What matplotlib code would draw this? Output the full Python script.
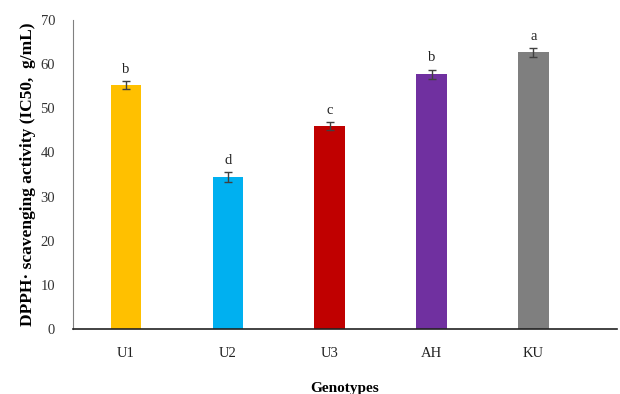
import matplotlib

matplotlib.use('Agg')

import matplotlib.pyplot as plt

genotypes = ['U1', 'U2', 'U3', 'AH', 'KU']
ic50 = [55.3, 34.5, 45.9, 57.7, 62.7]
errors = [0.9, 1.1, 0.9, 1.1, 1.0]
letters = ['b', 'd', 'c', 'b', 'a']
colors = ['#ffc000', '#00b0f0', '#c00000', '#7030a0', '#7f7f7f']

plt.rcParams['font.family'] = ['Liberation Serif', 'DejaVu Serif']

fig = plt.figure(figsize=(6.2, 3.94), dpi=100)
ax = fig.add_axes([0.118, 0.165, 0.877, 0.784])

x = range(len(genotypes))
ax.bar(x, ic50, width=0.30, color=colors, zorder=2)
ax.errorbar(x, ic50, yerr=errors, fmt='none', ecolor='#404040',
            elinewidth=1, capsize=3, capthick=1, zorder=3)

for i, (v, e, lab) in enumerate(zip(ic50, errors, letters)):
    ax.text(i, v + e + 1.2, lab, ha='center', va='bottom', fontsize=10.5, color='#222222')

ax.set_xlim(-0.52, 4.82)
ax.set_ylim(0, 70)
ax.set_yticks(range(0, 71, 10))
ax.set_xticks(list(x))
ax.set_xticklabels(genotypes)

ax.spines[['top', 'right']].set_visible(False)
ax.spines['left'].set_color('#808080')
ax.spines['bottom'].set_color('#222222')
ax.spines['bottom'].set_linewidth(1.2)
ax.tick_params(axis='x', length=0, pad=13, labelsize=10.5, colors='#222222')
ax.tick_params(axis='y', length=0, pad=13, labelsize=10.5, colors='#333333')

ax.set_ylabel('DPPH· scavenging activity (IC50,  g/mL)', fontsize=12.5,
              fontweight='bold', labelpad=3)
ax.set_xlabel('Genotypes', fontsize=11, fontweight='bold', labelpad=16)

fig.savefig('out.png', dpi=100, facecolor='white')
